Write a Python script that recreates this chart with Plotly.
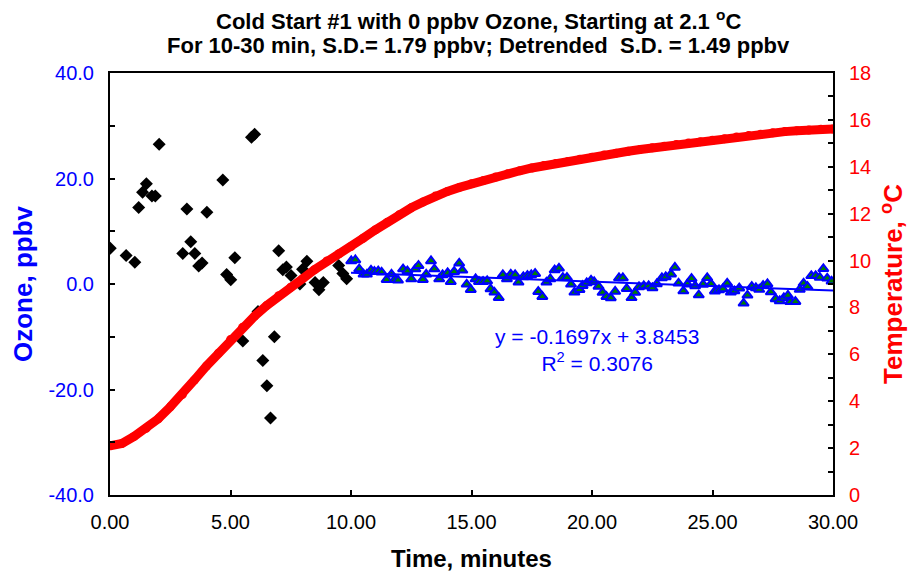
import plotly.graph_objects as go

# Ozone, 0-10 min (black diamonds)
diamond_t = [0.01, 0.67, 1.03, 1.19, 1.35, 1.51, 1.74, 1.88, 2.04, 3.02, 3.19, 3.35,
             3.52, 3.68, 3.82, 4.02, 4.68, 4.84, 5.01, 5.18, 5.51, 5.87, 6.00, 6.14,
             6.34, 6.51, 6.66, 6.82, 7.00, 7.17, 7.32, 7.51, 7.88, 7.99, 8.17, 8.51,
             8.67, 8.85, 9.49, 9.66, 9.82]
diamond_o3 = [6.8, 5.4, 4.1, 14.5, 17.4, 19.0, 16.7, 16.7, 26.5, 5.8, 14.2, 8.0,
              5.8, 3.4, 4.0, 13.6, 19.7, 1.8, 0.8, 5.0, -10.8, 27.8, 28.4, -5.2,
              -14.5, -19.3, -25.4, -10.0, 6.3, 2.7, 3.2, 1.6, 0.0, 2.8, 4.3, 0.3,
              -1.1, 0.3, 3.5, 2.0, 1.0]

# Ozone, 10-30 min (green triangles)
tri_t = [10.01, 10.18, 10.34, 10.52, 10.66, 10.83, 10.97, 11.13, 11.27, 11.48, 11.68, 11.82,
         11.95, 12.16, 12.34, 12.50, 12.67, 12.80, 12.98, 13.12, 13.32, 13.46, 13.66, 13.80,
         14.01, 14.14, 14.28, 14.49, 14.62, 14.80, 14.97, 15.17, 15.31, 15.48, 15.65, 15.79,
         15.95, 16.13, 16.30, 16.47, 16.63, 16.81, 16.95, 17.15, 17.32, 17.48, 17.64, 17.77,
         17.94, 18.11, 18.27, 18.45, 18.63, 18.79, 18.96, 19.13, 19.27, 19.48, 19.61, 19.78,
         19.96, 20.09, 20.27, 20.44, 20.60, 20.78, 20.96, 21.12, 21.28, 21.44, 21.64, 21.79,
         21.95, 22.15, 22.35, 22.51, 22.69, 22.90, 23.06, 23.28, 23.44, 23.59, 23.79, 23.96,
         24.13, 24.28, 24.43, 24.61, 24.78, 24.94, 25.10, 25.27, 25.43, 25.61, 25.76, 25.91,
         26.11, 26.29, 26.45, 26.63, 26.80, 26.94, 27.10, 27.28, 27.42, 27.62, 27.79, 27.96,
         28.13, 28.23, 28.44, 28.62, 28.78, 28.94, 29.10, 29.28, 29.45, 29.60, 29.76, 29.94]
tri_o3 = [4.36, 4.55, 2.84, 1.84, 1.84, 2.60, 2.33, 2.46, 2.22, 0.82, 1.84, 0.82,
          0.70, 2.84, 2.46, 0.95, 2.84, 3.47, 0.82, 1.84, 4.36, 2.84, 0.95, 1.71,
          2.09, 0.44, 2.33, 3.92, 2.60, -0.06, -1.08, 0.95, 0.44, 0.44, 0.57, -0.95,
          -1.57, -2.60, 1.71, 0.95, 1.84, 1.71, 0.32, 1.33, 1.57, 1.71, 1.95, -1.46,
          -2.41, 0.32, 0.95, 2.65, 2.98, 1.19, 1.19, -0.06, -1.57, -1.08, -0.32, 0.19,
          0.70, 0.38, -0.47, -1.61, -2.41, -2.65, -1.42, 1.14, 1.14, -0.89, -2.62, -1.61,
          -0.57, -0.38, -0.38, -0.76, 0.00, 1.14, 1.33, 1.86, 3.13, 0.13, -1.33, -0.04,
          1.00, -0.38, -2.09, -0.09, 1.18, 0.04, -1.36, -1.14, -0.95, 0.13, -1.57, -1.33,
          -0.80, -3.66, -2.14, -0.51, -0.76, -1.04, -0.32, 0.00, -1.52, -2.84, -3.22, -2.65,
          -2.18, -3.36, -3.36, -1.04, 0.13, -0.51, 1.55, 1.55, 1.23, 2.88, 1.08, 0.51]

# Linear trend shown on the chart
slope = -0.1697
intercept = 3.8453
trend_t = [10.0, 30.0]

# Temperature (red)
temp_t = [0.0, 0.5, 1.0, 1.5, 2.0, 2.5, 3.0, 3.5, 4.0, 4.5, 5.0, 5.5, 6.0, 6.5, 7.0, 7.5,
          8.0, 8.5, 9.0, 9.5, 10.0, 10.5, 11.0, 11.5, 12.0, 12.5, 13.0, 13.5, 14.0, 14.5,
          15.0, 15.5, 16.0, 16.5, 17.0, 17.5, 18.0, 18.5, 19.0, 19.5, 20.0, 20.5, 21.0,
          21.5, 22.0, 22.5, 23.0, 23.5, 24.0, 24.5, 25.0, 25.5, 26.0, 26.5, 27.0, 27.5,
          28.0, 28.5, 29.0, 29.5, 30.0]
temp_c = [2.1, 2.2, 2.5, 2.84, 3.25, 3.76, 4.28, 4.9, 5.5, 6.05, 6.63, 7.15, 7.63, 8.08,
          8.5, 8.86, 9.23, 9.62, 9.98, 10.29, 10.6, 10.95, 11.3, 11.63, 11.95, 12.25, 12.5,
          12.75, 12.95, 13.12, 13.28, 13.42, 13.56, 13.7, 13.83, 13.95, 14.05, 14.14, 14.23,
          14.32, 14.41, 14.5, 14.58, 14.66, 14.74, 14.81, 14.88, 14.95, 15.01, 15.07, 15.13,
          15.2, 15.27, 15.33, 15.39, 15.45, 15.5, 15.54, 15.57, 15.6, 15.61]

x_ticks = [0, 5, 10, 15, 20, 25, 30]
x_labels = ["0.00", "5.00", "10.00", "15.00", "20.00", "25.00", "30.00"]
o3_ticks = [-40, -20, 0, 20, 40]
o3_labels = ["-40.0", "-20.0", "0.0", "20.0", "40.0"]
temp_ticks = [0, 2, 4, 6, 8, 10, 12, 14, 16, 18]

title_lines = ["Cold Start #1 with 0 ppbv Ozone, Starting at 2.1 <sup>o</sup>C",
               "For 10-30 min, S.D.= 1.79 ppbv; Detrended  S.D. = 1.49 ppbv"]

FONT = "Liberation Sans, Arial, sans-serif"

fig = go.Figure()

fig.add_trace(go.Scatter(
    x=temp_t, y=temp_c, yaxis="y2", mode="lines+markers",
    line=dict(color="#ff0000", width=9),
    marker=dict(color="#ff0000", size=9, symbol="circle"),
    showlegend=False,
))

fig.add_trace(go.Scatter(
    x=diamond_t, y=diamond_o3, mode="markers",
    marker=dict(color="black", size=10, symbol="diamond"),
    showlegend=False,
))

fig.add_trace(go.Scatter(
    x=tri_t, y=tri_o3, mode="markers",
    marker=dict(color="#008000", size=9, symbol="triangle-up",
                line=dict(color="#0000ff", width=2)),
    showlegend=False,
))

fig.add_trace(go.Scatter(
    x=trend_t, y=[slope * t + intercept for t in trend_t], mode="lines",
    line=dict(color="#0000ff", width=2),
    showlegend=False,
))

fig.add_annotation(
    x=20.2, y=-12.5, xref="x", yref="y", showarrow=False,
    text="y = -0.1697x + 3.8453<br>R<sup>2</sup> = 0.3076",
    font=dict(family=FONT, size=21, color="#0000ff"),
)

# two-line bold title
for line, ypos in zip(title_lines, [1.125, 1.064]):
    fig.add_annotation(
        x=0.509, y=ypos, xref="paper", yref="paper", showarrow=False,
        xanchor="center", yanchor="middle", text=f"<b>{line}</b>",
        font=dict(family=FONT, size=22, color="black"),
    )

fig.update_layout(
    width=915, height=577,
    margin=dict(l=94, r=90, t=65, b=90),
    paper_bgcolor="white", plot_bgcolor="white",
    font=dict(family=FONT, color="black"),
    xaxis=dict(
        range=[0, 30], tickmode="array", tickvals=x_ticks, ticktext=x_labels,
        ticks="inside", ticklen=5, tickwidth=1.5, tickcolor="black",
        ticklabelstandoff=8,
        showline=True, linecolor="black", linewidth=2, mirror=True,
        showgrid=False, zeroline=False,
        tickfont=dict(family=FONT, size=20, color="black"),
        title=dict(text="<b>Time, minutes</b>", standoff=18,
                   font=dict(family=FONT, size=24, color="black")),
    ),
    yaxis=dict(
        range=[-40, 40], tickmode="array", tickvals=o3_ticks, ticktext=o3_labels,
        ticks="inside", ticklen=5, tickwidth=1.5, tickcolor="black",
        ticklabelstandoff=10,
        minor=dict(dtick=10, ticks="inside", ticklen=5, tickcolor="black"),
        showline=True, linecolor="black", linewidth=2, mirror=True,
        showgrid=False, zeroline=False,
        tickfont=dict(family=FONT, size=20, color="#0000ff"),
        title=dict(text="<b>Ozone, ppbv</b>", standoff=10,
                   font=dict(family=FONT, size=26, color="#0000ff")),
    ),
    yaxis2=dict(
        range=[0, 18], overlaying="y", side="right",
        tickmode="array", tickvals=temp_ticks,
        ticks="inside", ticklen=5, tickwidth=1.5, tickcolor="black",
        ticklabelstandoff=10,
        minor=dict(dtick=1, ticks="inside", ticklen=5, tickcolor="black"),
        showline=True, linecolor="black", linewidth=2,
        showgrid=False, zeroline=False,
        tickfont=dict(family=FONT, size=20, color="#ff0000"),
        title=dict(text="<b>Temperature, <sup>o</sup>C</b>", standoff=14,
                   font=dict(family=FONT, size=26, color="#ff0000")),
    ),
)

fig.write_html("out.html")
